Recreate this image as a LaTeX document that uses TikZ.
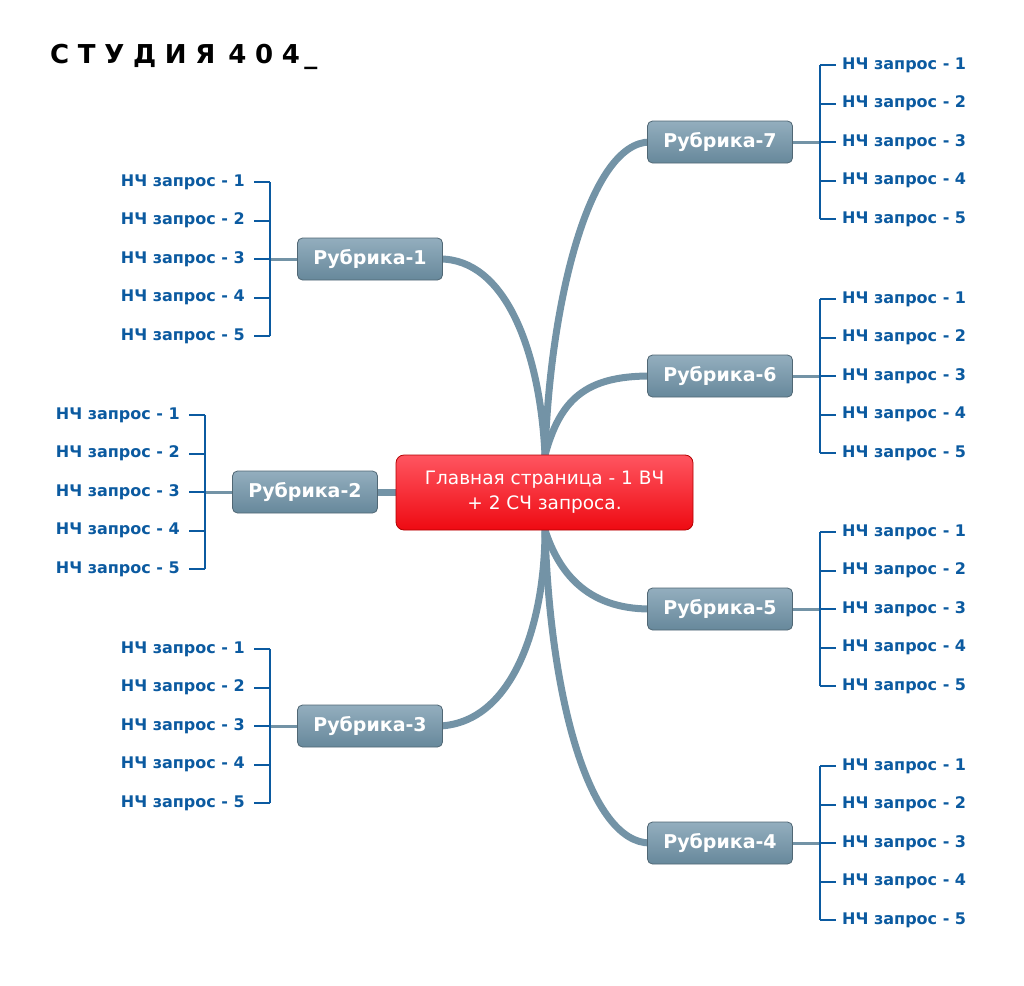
\documentclass[tikz,border=0pt]{standalone}
\usepackage{fontspec}
\setmainfont{DejaVu Sans}
\begin{document}
\begin{tikzpicture}[x=1pt,y=-1pt,
  branch/.style={draw=brc,line width=7pt,line cap=round},
  rub/.style={rounded corners=5pt,draw=brc!70!black,line width=0.8pt,top color=rtop,bottom color=rbot,minimum width=145pt,minimum height=42pt,text=white,font=\fontsize{19}{22}\selectfont\bfseries},
  leaf/.style={text=leafc,font=\fontsize{16}{18}\selectfont\bfseries,inner sep=0pt},
  tick/.style={draw=leafc,line width=2pt}]
\definecolor{brc}{HTML}{7393A6}
\definecolor{rtop}{HTML}{93AEBE}
\definecolor{rbot}{HTML}{67889B}
\definecolor{leafc}{HTML}{0B5AA0}
\definecolor{ctop}{HTML}{FF5560}
\definecolor{cbot}{HTML}{EE0A12}
\useasboundingbox (0,0) rectangle (1024,985);
\node[anchor=west,font=\fontsize{26}{28}\selectfont\bfseries,inner sep=0pt] (title) at (50,57) {С\,\,Т\,\,У\,\,Д\,\,И\,\,Я\,\,\,4\,\,0\,\,4\,\_};
% center
\coordinate (ct) at (545,455);
\coordinate (cb) at (545,530);
% branches
\coordinate (r1e) at (440,259);
\coordinate (r2e) at (375,492);
\coordinate (r3e) at (440,726);
\coordinate (r4e) at (650,843);
\coordinate (r5e) at (650,609);
\coordinate (r6e) at (650,376);
\coordinate (r7e) at (650,142);
\draw[branch] (r1e) .. controls (505,259) and (540,350) .. (ct);
\draw[branch] (r7e) .. controls (590,142) and (550,300) .. (ct);
\draw[branch] (r6e) .. controls (585,376) and (560,400) .. (ct);
\draw[branch] (r2e) -- (400,492);
\draw[branch] (r3e) .. controls (515,722) and (545,620) .. (cb);
\draw[branch] (r5e) .. controls (585,609) and (558,570) .. (cb);
\draw[branch] (r4e) .. controls (590,843) and (550,700) .. (cb);
\node[rounded corners=8pt,draw=red!70!black,line width=0.8pt,top color=ctop,bottom color=cbot,minimum width=297pt,minimum height=75pt,text=white,align=center,font=\fontsize{18.5}{25}\selectfont] (c) at (544.5,492.5) {Главная страница - 1 ВЧ\\+ 2 СЧ запроса.};
% rubrics
\foreach \n/\x/\y in {1/370/259,2/305/492,3/370/726,4/720/843,5/720/609,6/720/376,7/720/142}
  \node[rub] (r\n) at (\x,\y) {Рубрика-\n};
% left leaves
\foreach \n/\vx/\y in {1/270/259,2/205/492,3/270/726}{
  \draw[line width=3pt,draw=brc] (r\n.west) -- (\vx,\y);
  \draw[tick] (\vx,\y-77) -- (\vx,\y+77);
  \foreach \k in {1,...,5}{
    \coordinate (l\n-\k) at (\vx,\y-115.5+38.5*\k);
    \node[leaf,anchor=east] (t\n-\k) at ([xshift=-25]l\n-\k) {НЧ запрос - \k};
    \draw[tick] (l\n-\k) -- ++(-16,0);
  }
}
% right leaves
\foreach \n/\vx/\y in {4/820/843,5/820/609,6/820/376,7/820/142}{
  \draw[line width=3pt,draw=brc] (r\n.east) -- (\vx,\y);
  \draw[tick] (\vx,\y-77) -- (\vx,\y+77);
  \foreach \k in {1,...,5}{
    \coordinate (l\n-\k) at (\vx,\y-115.5+38.5*\k);
    \node[leaf,anchor=west] (t\n-\k) at ([xshift=22]l\n-\k) {НЧ запрос - \k};
    \draw[tick] (l\n-\k) -- ++(16,0);
  }
}
\end{tikzpicture}
\end{document}
